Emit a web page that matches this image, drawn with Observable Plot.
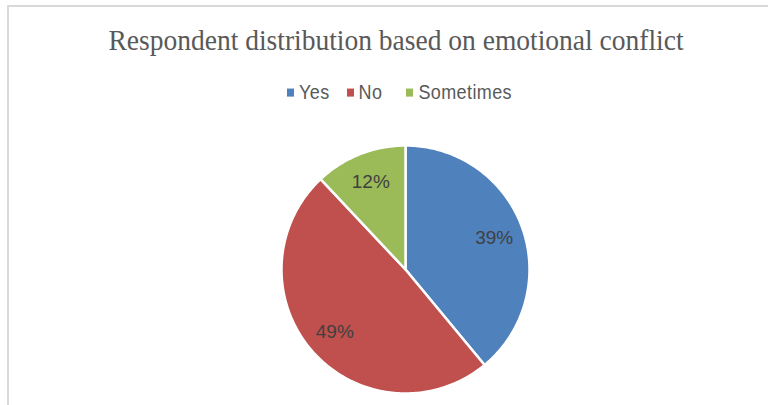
<!DOCTYPE html>
<html>
<head>
<meta charset="utf-8">
<script src="https://cdn.jsdelivr.net/npm/d3@7"></script>
<script src="https://cdn.jsdelivr.net/npm/@observablehq/plot@0.6"></script>
<style>
  html, body { margin: 0; padding: 0; background: #fff; width: 768px; height: 405px; overflow: hidden; }
  #frame { position: absolute; left: 7px; top: 5px; width: 770px; height: 410px;
           border-top: 2px solid #d9d9d9; border-left: 2px solid #d9d9d9; box-sizing: border-box; }
  #title { position: absolute; left: 396px; top: 27px; transform: translateX(-50%) scaleY(1.1); transform-origin: 50% 85%;
           font-family: "Liberation Serif", serif; font-size: 27.5px; line-height: 27.5px; color: #595959; white-space: nowrap; }
  #legend { position: absolute; left: 287px; top: 82.5px; display: flex; align-items: center; transform: scaleY(1.15); transform-origin: 0 50%;
            font-family: "Liberation Sans", sans-serif; font-size: 18px; line-height: 18px; color: #595959; white-space: nowrap; letter-spacing: 0.4px; }
  #legend .item { display: flex; align-items: center; }
  #legend .sw { width: 7px; height: 7px; margin-right: 5px; }
  #chart { position: absolute; left: 0; top: 135px; }
</style>
</head>
<body>
<div id="frame"></div>
<div id="title"></div>
<div id="legend"></div>
<div id="chart"></div>
<script>
const title = "Respondent distribution based on emotional conflict";
const categories = ["Yes", "No", "Sometimes"];
const shares = [39, 49, 12];
const labels = ["39%", "49%", "12%"];
const colors = ["#4f81bd", "#c0504d", "#9bbb59"];
const legendGaps = [17, 24, 0];

document.getElementById("title").textContent = title;

const legend = document.getElementById("legend");
categories.forEach((c, i) => {
  const item = document.createElement("div");
  item.className = "item";
  item.style.marginRight = legendGaps[i] + "px";
  const sw = document.createElement("div");
  sw.className = "sw";
  sw.style.background = colors[i];
  const t = document.createElement("span");
  t.textContent = c;
  item.appendChild(sw);
  item.appendChild(t);
  legend.appendChild(item);
});

// Pie geometry from the data (angles clockwise from 12 o'clock)
const arcs = d3.pie().sort(null).value(d => d)(shares);
const rows = [];
arcs.forEach((a, i) => {
  const cat = categories[i];
  rows.push({cat, x: 0, y: 0});
  const n = Math.max(2, Math.ceil((a.endAngle - a.startAngle) / (Math.PI / 180)));
  for (let k = 0; k <= n; k++) {
    const t = a.startAngle + (a.endAngle - a.startAngle) * k / n;
    rows.push({cat, x: Math.sin(t), y: Math.cos(t)});
  }
  rows.push({cat, x: 0, y: 0});
});
const labelRows = arcs.map((a, i) => {
  const m = (a.startAngle + a.endAngle) / 2;
  const rr = 0.76;
  return {text: labels[i], x: rr * Math.sin(m), y: rr * Math.cos(m)};
});

const cx = 405, cy = 134, r = 124;
const plot = Plot.plot({
  width: 768,
  height: 270,
  margin: 0,
  x: {domain: [-1, 1], range: [cx - r, cx + r], axis: null},
  y: {domain: [-1, 1], range: [cy + r, cy - r], axis: null},
  color: {domain: categories, range: colors},
  style: {background: "transparent", overflow: "visible"},
  marks: [
    Plot.line(rows, {x: "x", y: "y", z: "cat", fill: "cat", stroke: "white", strokeWidth: 2.5, strokeLinejoin: "round"}),
    Plot.text(labelRows, {x: "x", y: "y", text: "text", fill: "#404040", fontSize: 19, fontFamily: "Liberation Sans, sans-serif"})
  ]
});
document.getElementById("chart").appendChild(plot);
</script>
</body>
</html>
